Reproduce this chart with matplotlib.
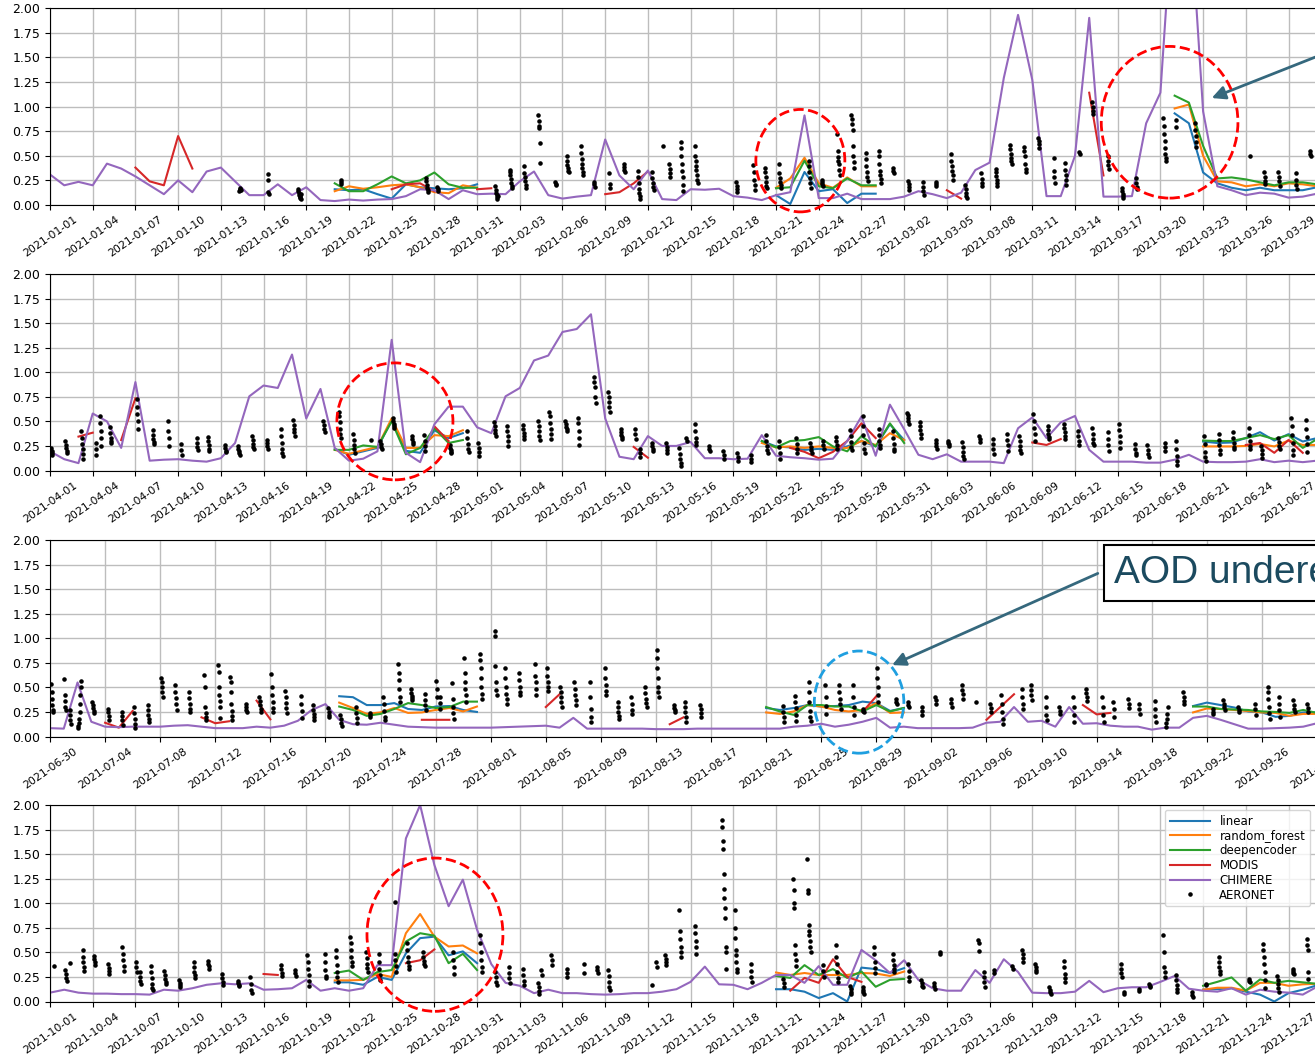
import numpy as np
import pandas as pd
import matplotlib
matplotlib.use("Agg")
import matplotlib.pyplot as plt
import matplotlib.dates as mdates
from matplotlib.patches import Ellipse

W, H = 1315, 1064

# ---- data: daily CHIMERE AOD for each quarter (one value per day from the start date)
q_start = ["2021-01-01", "2021-04-01", "2021-06-30", "2021-10-01"]
q_tick_step = [3, 3, 4, 3]
q_span = [89.0, 89.0, 92.0, 89.0]

chimere_q1 = [0.31, 0.20, 0.235, 0.20, 0.42, 0.37, 0.29, 0.20, 0.11, 0.25,
              0.13, 0.34, 0.38, 0.24, 0.10, 0.10, 0.21, 0.10, 0.18, 0.05,
              0.04, 0.055, 0.045, 0.055, 0.06, 0.09, 0.16, 0.15, 0.06, 0.15,
              0.11, 0.115, 0.11, 0.24, 0.34, 0.10, 0.065, 0.085, 0.10, 0.665,
              0.30, 0.16, 0.35, 0.06, 0.05, 0.16, 0.155, 0.165, 0.09, 0.075,
              0.05, 0.10, 0.13, 0.91, 0.07, 0.07, 0.115, 0.06, 0.06, 0.06,
              0.085, 0.14, 0.11, 0.07, 0.125, 0.355, 0.43, 1.29, 1.93, 1.27,
              0.09, 0.09, 0.50, 1.90, 0.085, 0.085, 0.09, 0.83, 1.14, 3.3,
              3.2, 0.95, 0.19, 0.15, 0.10, 0.125, 0.115, 0.075, 0.085, 0.115]
chimere_q2 = [0.195, 0.115, 0.075, 0.58, 0.50, 0.23, 0.90, 0.10, 0.11, 0.115,
              0.10, 0.09, 0.125, 0.28, 0.755, 0.865, 0.84, 1.18, 0.53, 0.83,
              0.23, 0.10, 0.12, 0.195, 1.33, 0.18, 0.085, 0.47, 0.65, 0.65,
              0.44, 0.38, 0.755, 0.84, 1.12, 1.17, 1.41, 1.44, 1.59, 0.53,
              0.14, 0.115, 0.35, 0.25, 0.25, 0.29, 0.125, 0.125, 0.115, 0.12,
              0.36, 0.15, 0.135, 0.125, 0.11, 0.12, 0.30, 0.55, 0.15, 0.67,
              0.42, 0.16, 0.115, 0.165, 0.09, 0.09, 0.09, 0.075, 0.43, 0.54,
              0.33, 0.49, 0.555, 0.21, 0.09, 0.09, 0.09, 0.08, 0.08, 0.11,
              0.16, 0.09, 0.085, 0.085, 0.09, 0.115, 0.085, 0.10, 0.085, 0.10]
chimere_q3 = [0.085, 0.08, 0.55, 0.15, 0.10, 0.095, 0.10, 0.10, 0.10, 0.11,
              0.115, 0.10, 0.085, 0.085, 0.085, 0.10, 0.09, 0.11, 0.16, 0.27,
              0.33, 0.17, 0.125, 0.12, 0.14, 0.12, 0.10, 0.095, 0.09, 0.09,
              0.09, 0.09, 0.09, 0.095, 0.10, 0.105, 0.11, 0.09, 0.19, 0.08,
              0.08, 0.08, 0.08, 0.08, 0.075, 0.075, 0.075, 0.08, 0.08, 0.08,
              0.08, 0.08, 0.08, 0.08, 0.10, 0.11, 0.13, 0.10, 0.12, 0.15,
              0.19, 0.09, 0.10, 0.085, 0.085, 0.085, 0.085, 0.09, 0.14, 0.15,
              0.30, 0.15, 0.16, 0.10, 0.30, 0.13, 0.135, 0.11, 0.10, 0.10,
              0.07, 0.09, 0.09, 0.19, 0.21, 0.17, 0.125, 0.08, 0.08, 0.085,
              0.09, 0.10, 0.135]
chimere_q4 = [0.09, 0.12, 0.09, 0.08, 0.08, 0.075, 0.075, 0.07, 0.12, 0.11,
              0.135, 0.17, 0.185, 0.175, 0.185, 0.12, 0.125, 0.135, 0.22, 0.11,
              0.135, 0.11, 0.135, 0.37, 0.37, 1.66, 2.0, 1.39, 0.97, 1.24,
              0.73, 0.38, 0.19, 0.16, 0.085, 0.12, 0.085, 0.085, 0.075, 0.07,
              0.075, 0.085, 0.085, 0.10, 0.125, 0.20, 0.355, 0.175, 0.17, 0.125,
              0.19, 0.27, 0.27, 0.19, 0.36, 0.17, 0.17, 0.525, 0.42, 0.29,
              0.42, 0.22, 0.135, 0.11, 0.11, 0.32, 0.19, 0.43, 0.30, 0.09,
              0.085, 0.085, 0.10, 0.21, 0.095, 0.135, 0.145, 0.145, 0.20, 0.26,
              0.13, 0.11, 0.10, 0.135, 0.07, 0.12, 0.10, 0.09, 0.07, 0.15]

# ---- MODIS retrievals: (first day, daily values) pieces
modis_q1 = [("01-07", [0.38, 0.24, 0.20, 0.70, 0.37]),
            ("01-25", [0.16, 0.21, 0.22, 0.14]),
            ("01-31", [0.16, 0.17]),
            ("02-09", [0.11, 0.13, 0.22, 0.34]),
            ("03-05", [0.15, 0.065]),
            ("03-15", [1.14, 0.30])]
modis_q2 = [("04-03", [0.345, 0.385]),
            ("04-06", [0.31, 0.735]),
            ("04-28", [0.45, 0.30]),
            ("05-12", [0.24, 0.13]),
            ("05-23", [0.23, 0.19, 0.125, 0.19, 0.30, 0.48, 0.33]),
            ("06-09", [0.285, 0.26, 0.32]),
            ("06-24", [0.26, 0.28, 0.18, 0.31, 0.18])]
modis_q3 = [("07-04", [0.14, 0.09, 0.26]),
            ("07-11", [0.195, 0.135, 0.155]),
            ("07-15", [0.365, 0.175]),
            ("07-27", [0.17, 0.17, 0.17]),
            ("08-05", [0.30, 0.43]),
            ("08-14", [0.125, 0.195]),
            ("08-28", [0.25, 0.41]),
            ("09-06", [0.17, 0.30, 0.43]),
            ("09-13", [0.32, 0.225, 0.24])]
modis_q4 = [("10-16", [0.28, 0.27]),
            ("10-26", [0.39, 0.42, 0.53]),
            ("11-22", [0.11, 0.24, 0.19, 0.43, 0.25, 0.20])]

# ---- model predictions
linear_q1 = [("01-21", [0.16, 0.15, 0.16, 0.11, 0.065, 0.21, 0.18, 0.17, 0.16, 0.17, 0.21]),
             ("02-21", [0.10, 0.01, 0.335, 0.14, 0.16, 0.02, 0.115, 0.115]),
             ("03-21", [0.93, 0.83, 0.33, 0.22, 0.175, 0.15, 0.175, 0.15, 0.15, 0.15, 0.18])]
forest_q1 = [("01-21", [0.14, 0.19, 0.165, 0.18, 0.20, 0.21, 0.18, 0.13, 0.12, 0.20, 0.175]),
             ("02-21", [0.175, 0.27, 0.48, 0.22, 0.175, 0.28, 0.19, 0.19]),
             ("03-21", [0.98, 1.02, 0.50, 0.24, 0.23, 0.19, 0.21, 0.19, 0.22, 0.21, 0.19])]
deep_q1 = [("01-21", [0.22, 0.14, 0.14, 0.21, 0.29, 0.22, 0.25, 0.33, 0.21, 0.175, 0.175]),
           ("02-21", [0.17, 0.18, 0.45, 0.19, 0.17, 0.27, 0.20, 0.20]),
           ("03-21", [1.11, 1.04, 0.60, 0.27, 0.28, 0.26, 0.23, 0.20, 0.23, 0.23, 0.21])]

linear_q2 = [("04-21", [0.22, 0.16, 0.195, 0.23, 0.51, 0.20, 0.18, 0.41, 0.33, 0.38]),
             ("05-21", [0.30, 0.245, 0.235, 0.21, 0.22, 0.21, 0.245, 0.30, 0.245, 0.47, 0.31]),
             ("06-21", [0.295, 0.28, 0.285, 0.33, 0.39, 0.305, 0.37, 0.295, 0.33])]
forest_q2 = [("04-21", [0.21, 0.17, 0.205, 0.24, 0.53, 0.23, 0.23, 0.36, 0.35, 0.41]),
             ("05-21", [0.28, 0.235, 0.245, 0.23, 0.245, 0.23, 0.23, 0.30, 0.26, 0.38, 0.31]),
             ("06-21", [0.245, 0.245, 0.245, 0.25, 0.27, 0.245, 0.305, 0.26, 0.26])]
deep_q2 = [("04-21", [0.21, 0.21, 0.255, 0.24, 0.50, 0.165, 0.23, 0.43, 0.28, 0.31]),
           ("05-21", [0.30, 0.235, 0.30, 0.31, 0.34, 0.245, 0.195, 0.35, 0.245, 0.48, 0.28]),
           ("06-21", [0.305, 0.30, 0.30, 0.33, 0.36, 0.32, 0.36, 0.23, 0.32])]

linear_q3 = [("07-21", [0.41, 0.40, 0.32, 0.32, 0.34, 0.28, 0.27, 0.305, 0.31, 0.27, 0.25]),
             ("08-21", [0.29, 0.27, 0.29, 0.32, 0.305, 0.31, 0.32, 0.355, 0.34, 0.26, 0.29]),
             ("09-21", [0.31, 0.345, 0.32, 0.295, 0.255, 0.245, 0.20, 0.21, 0.245, 0.245])]
forest_q3 = [("07-21", [0.345, 0.29, 0.23, 0.245, 0.29, 0.24, 0.245, 0.27, 0.29, 0.255, 0.305]),
             ("08-21", [0.245, 0.23, 0.255, 0.32, 0.305, 0.27, 0.255, 0.27, 0.34, 0.24, 0.245]),
             ("09-21", [0.245, 0.285, 0.28, 0.27, 0.26, 0.245, 0.24, 0.21, 0.23, 0.23])]
deep_q3 = [("07-21", [0.305, 0.27, 0.21, 0.23, 0.28, 0.34, 0.32, 0.29, 0.30, 0.355, 0.355]),
           ("08-21", [0.30, 0.255, 0.22, 0.32, 0.32, 0.305, 0.305, 0.255, 0.32, 0.255, 0.29]),
           ("09-21", [0.305, 0.305, 0.28, 0.275, 0.27, 0.255, 0.25, 0.24, 0.27, 0.24])]

linear_q4 = [("10-21", [0.195, 0.195, 0.17, 0.25, 0.22, 0.49, 0.645, 0.66, 0.47, 0.51, 0.39]),
             ("11-21", [0.125, 0.125, 0.10, 0.035, 0.085, 0.0, 0.345, 0.33, 0.29, 0.34]),
             ("12-21", [0.12, 0.125, 0.135, 0.10, 0.07, 0.0, 0.085, 0.12, 0.165])]
forest_q4 = [("10-21", [0.215, 0.215, 0.22, 0.28, 0.25, 0.695, 0.89, 0.66, 0.56, 0.57, 0.49]),
             ("11-21", [0.295, 0.27, 0.29, 0.27, 0.27, 0.27, 0.29, 0.285, 0.26, 0.305]),
             ("12-21", [0.12, 0.14, 0.14, 0.11, 0.19, 0.19, 0.16, 0.175, 0.18])]
deep_q4 = [("10-21", [0.29, 0.315, 0.22, 0.30, 0.32, 0.61, 0.695, 0.67, 0.39, 0.485, 0.32]),
           ("11-21", [0.26, 0.24, 0.37, 0.27, 0.33, 0.24, 0.305, 0.15, 0.22, 0.23]),
           ("12-21", [0.16, 0.20, 0.245, 0.11, 0.225, 0.19, 0.21, 0.195, 0.18])]

# ---- AERONET sessions: "MM-DD HH" (first measurement) -> AOD readings
aeronet_q1 = {
    "01-14 07": [0.14, 0.15, 0.16, 0.17, 0.15],
    "01-16 07": [0.31, 0.25, 0.13, 0.11],
    "01-18 10": [0.16, 0.14, 0.12, 0.10, 0.09, 0.08, 0.07, 0.06, 0.11],
    "01-21 10": [0.25, 0.23, 0.21],
    "01-27 10": [0.27, 0.24, 0.20, 0.17, 0.15, 0.13],
    "01-28 05": [0.18, 0.16, 0.14],
    "02-01 07": [0.19, 0.15, 0.12, 0.10, 0.08, 0.06, 0.09],
    "02-02 07": [0.36, 0.33, 0.30, 0.26, 0.22, 0.19, 0.17],
    "02-03 07": [0.40, 0.32, 0.28, 0.24, 0.20, 0.17],
    "02-04 07": [0.91, 0.85, 0.80, 0.78, 0.63, 0.43],
    "02-05 12": [0.23, 0.21, 0.20],
    "02-06 07": [0.50, 0.45, 0.41, 0.38, 0.35, 0.33],
    "02-07 07": [0.60, 0.53, 0.47, 0.42, 0.38, 0.34, 0.30],
    "02-08 05": [0.23, 0.21, 0.18],
    "02-09 07": [0.32, 0.21, 0.17],
    "02-10 07": [0.42, 0.39, 0.36, 0.33],
    "02-11 07": [0.35, 0.28, 0.22, 0.16, 0.12, 0.09, 0.06],
    "02-12 07": [0.33, 0.27, 0.22, 0.18, 0.15],
    "02-13 01": [0.60],
    "02-13 12": [0.42, 0.37, 0.32, 0.28],
    "02-14 07": [0.64, 0.58, 0.50, 0.42, 0.35, 0.28, 0.20, 0.14],
    "02-15 07": [0.60, 0.50, 0.45, 0.40, 0.36, 0.30, 0.25, 0.22],
    "02-18 05": [0.23, 0.19, 0.16, 0.13],
    "02-19 10": [0.41, 0.33, 0.25, 0.20, 0.15],
    "02-20 05": [0.38, 0.33, 0.28, 0.23, 0.19, 0.17],
    "02-21 05": [0.42, 0.32, 0.27, 0.23, 0.20, 0.17],
    "02-23 07": [0.45, 0.40, 0.33, 0.27, 0.22, 0.17],
    "02-24 05": [0.25, 0.23, 0.21, 0.19],
    "02-25 07": [0.72, 0.55, 0.49, 0.45, 0.42, 0.36, 0.30],
    "02-26 07": [0.91, 0.87, 0.82, 0.76, 0.60, 0.50, 0.44, 0.38],
    "02-27 07": [0.53, 0.47, 0.40, 0.33, 0.28, 0.24],
    "02-28 05": [0.55, 0.50, 0.42, 0.35, 0.30, 0.26, 0.22],
    "03-01 05": [0.38, 0.35, 0.32],
    "03-02 07": [0.24, 0.21, 0.18, 0.15],
    "03-03 07": [0.23, 0.18, 0.14, 0.10],
    "03-04 05": [0.23, 0.21, 0.19],
    "03-05 07": [0.52, 0.45, 0.40, 0.35, 0.30, 0.25],
    "03-06 07": [0.20, 0.16, 0.12, 0.09, 0.07],
    "03-07 10": [0.32, 0.26, 0.22, 0.19],
    "03-08 10": [0.37, 0.33, 0.29, 0.25, 0.22, 0.19],
    "03-09 10": [0.61, 0.57, 0.52, 0.48, 0.45, 0.42],
    "03-10 10": [0.59, 0.55, 0.50, 0.42, 0.37, 0.33],
    "03-11 10": [0.68, 0.65, 0.62, 0.58],
    "03-12 12": [0.48, 0.35, 0.28, 0.22],
    "03-13 07": [0.43, 0.36, 0.30, 0.25, 0.20],
    "03-14 07": [0.54, 0.52],
    "03-15 05": [1.05, 1.00, 0.95, 0.92],
    "03-16 07": [0.50, 0.45, 0.41, 0.37],
    "03-17 07": [0.17, 0.14, 0.11, 0.09, 0.07],
    "03-18 07": [0.27, 0.22, 0.18, 0.16],
    "03-20 05": [0.88, 0.80, 0.72, 0.65, 0.58, 0.52, 0.48, 0.45],
    "03-21 02": [0.86, 0.79],
    "03-22 10": [0.83, 0.76, 0.70, 0.64, 0.59],
    "03-26 07": [0.50],
    "03-27 07": [0.33, 0.28, 0.24, 0.21],
    "03-28 07": [0.33, 0.28, 0.24, 0.19],
    "03-29 12": [0.32, 0.25, 0.20, 0.16],
    "03-30 12": [0.55, 0.52, 0.50],
}
aeronet_q2 = {
    "04-01 02": [0.23, 0.20, 0.18, 0.16],
    "04-02 02": [0.30, 0.26, 0.23, 0.20, 0.18],
    "04-03 05": [0.40, 0.33, 0.27, 0.22, 0.17, 0.12],
    "04-04 05": [0.28, 0.22, 0.16],
    "04-04 12": [0.55, 0.48, 0.40, 0.33, 0.25],
    "04-05 05": [0.44, 0.38, 0.33, 0.30, 0.28],
    "04-07 02": [0.73, 0.65, 0.58, 0.50, 0.42],
    "04-08 05": [0.41, 0.36, 0.32, 0.29, 0.27],
    "04-09 07": [0.50, 0.40, 0.33, 0.25],
    "04-10 05": [0.27, 0.21, 0.16],
    "04-11 07": [0.33, 0.28, 0.24, 0.21],
    "04-12 02": [0.34, 0.30, 0.26, 0.22, 0.20],
    "04-13 07": [0.26, 0.23, 0.20, 0.19],
    "04-14 05": [0.25, 0.22, 0.20, 0.18, 0.16],
    "04-15 05": [0.35, 0.31, 0.27, 0.24, 0.22],
    "04-16 05": [0.31, 0.28, 0.25, 0.22],
    "04-17 05": [0.42, 0.35, 0.28, 0.22, 0.18, 0.15],
    "04-18 02": [0.51, 0.46, 0.42, 0.39, 0.35],
    "04-20 05": [0.50, 0.46, 0.42, 0.39],
    "04-21 07": [0.60, 0.55, 0.49, 0.42, 0.37, 0.33],
    "04-22 07": [0.37, 0.31, 0.26, 0.22, 0.18],
    "04-23 14": [0.31],
    "04-24 05": [0.30, 0.27, 0.24, 0.22],
    "04-25 02": [0.53, 0.50, 0.47, 0.45, 0.43],
    "04-26 10": [0.35, 0.32, 0.29, 0.27],
    "04-27 07": [0.36, 0.30, 0.25, 0.20],
    "04-29 02": [0.26, 0.23, 0.21, 0.19, 0.18],
    "04-30 07": [0.40, 0.33, 0.27, 0.22, 0.19],
    "05-01 02": [0.28, 0.23, 0.19, 0.15],
    "05-02 05": [0.49, 0.45, 0.41, 0.38, 0.35],
    "05-03 02": [0.45, 0.40, 0.35, 0.30, 0.25],
    "05-04 05": [0.46, 0.42, 0.38, 0.35, 0.32],
    "05-05 07": [0.50, 0.45, 0.40, 0.35, 0.31],
    "05-06 02": [0.60, 0.55, 0.48, 0.42, 0.37, 0.32],
    "05-07 05": [0.50, 0.47, 0.44, 0.42, 0.40],
    "05-08 02": [0.53, 0.48, 0.40, 0.33, 0.26],
    "05-09 05": [0.95, 0.90, 0.85, 0.75, 0.69],
    "05-10 05": [0.80, 0.75, 0.70, 0.65, 0.60],
    "05-11 02": [0.42, 0.39, 0.36, 0.34, 0.32],
    "05-12 02": [0.42, 0.37, 0.32],
    "05-12 10": [0.22, 0.18, 0.14],
    "05-13 07": [0.28, 0.25, 0.22, 0.20],
    "05-14 07": [0.28, 0.24, 0.21, 0.18],
    "05-15 05": [0.23, 0.17, 0.12, 0.08, 0.05],
    "05-15 17": [0.33, 0.30],
    "05-16 07": [0.47, 0.40, 0.33, 0.29, 0.26],
    "05-17 07": [0.25, 0.22, 0.20],
    "05-18 07": [0.20, 0.16, 0.12],
    "05-19 07": [0.18, 0.14, 0.10],
    "05-20 05": [0.16, 0.12, 0.09],
    "05-21 07": [0.36, 0.30, 0.25, 0.21, 0.18],
    "05-22 05": [0.30, 0.24, 0.18, 0.12],
    "05-23 10": [0.33, 0.27, 0.22, 0.18],
    "05-24 10": [0.28, 0.24, 0.21, 0.18],
    "05-25 07": [0.30, 0.26, 0.22],
    "05-26 05": [0.34, 0.30, 0.26, 0.22],
    "05-27 05": [0.41, 0.35, 0.29, 0.24, 0.21],
    "05-28 02": [0.55, 0.45, 0.36, 0.28, 0.22, 0.18],
    "05-29 05": [0.42, 0.36, 0.30, 0.26, 0.23],
    "05-30 05": [0.40, 0.33, 0.27, 0.22, 0.20],
    "05-31 05": [0.59, 0.56, 0.53, 0.50, 0.47],
    "06-01 02": [0.49, 0.45, 0.41, 0.37, 0.33],
    "06-02 05": [0.31, 0.28, 0.25, 0.22],
    "06-03 02": [0.30, 0.28, 0.27, 0.25],
    "06-04 02": [0.29, 0.24, 0.19, 0.15, 0.12],
    "06-05 07": [0.35, 0.32, 0.29],
    "06-06 05": [0.32, 0.27, 0.22, 0.17],
    "06-07 05": [0.37, 0.31, 0.26, 0.20],
    "06-08 02": [0.35, 0.30, 0.25, 0.21, 0.18],
    "06-09 02": [0.58, 0.50, 0.43, 0.37, 0.30],
    "06-10 02": [0.45, 0.41, 0.37, 0.34, 0.32],
    "06-11 05": [0.47, 0.43, 0.39, 0.35, 0.32],
    "06-12 05": [0.40, 0.35, 0.30, 0.26],
    "06-13 05": [0.43, 0.37, 0.32, 0.28, 0.26],
    "06-14 07": [0.39, 0.32, 0.26, 0.20],
    "06-15 02": [0.47, 0.41, 0.35, 0.29, 0.23],
    "06-16 05": [0.27, 0.22, 0.18, 0.16],
    "06-17 02": [0.26, 0.21, 0.17, 0.14],
    "06-18 07": [0.28, 0.24, 0.20],
    "06-19 02": [0.30, 0.22, 0.15, 0.10, 0.06],
    "06-21 02": [0.35, 0.27, 0.19, 0.14, 0.10],
    "06-22 02": [0.37, 0.31, 0.26, 0.21, 0.17],
    "06-23 02": [0.39, 0.33, 0.28, 0.24, 0.22],
    "06-24 05": [0.43, 0.36, 0.30, 0.25, 0.22],
    "06-25 02": [0.25, 0.21, 0.17, 0.13],
    "06-26 07": [0.33, 0.29, 0.25, 0.22],
    "06-27 05": [0.53, 0.45, 0.36, 0.28, 0.21, 0.16],
    "06-28 05": [0.51, 0.42, 0.34, 0.27, 0.19],
}
aeronet_q3 = {
    "06-30 02": [0.53, 0.45, 0.38, 0.32, 0.27, 0.25],
    "07-01 01": [0.59, 0.42, 0.36, 0.30, 0.27],
    "07-01 10": [0.27, 0.22, 0.17, 0.13],
    "07-02 01": [0.09, 0.11, 0.14, 0.18, 0.25, 0.33, 0.42, 0.50, 0.56],
    "07-03 02": [0.35, 0.32, 0.29, 0.26, 0.24],
    "07-04 05": [0.28, 0.25, 0.21, 0.17],
    "07-05 05": [0.25, 0.21, 0.17, 0.12],
    "07-06 02": [0.30, 0.24, 0.18, 0.13, 0.09],
    "07-07 02": [0.32, 0.27, 0.22, 0.18, 0.15],
    "07-08 02": [0.60, 0.55, 0.50, 0.45, 0.40],
    "07-09 02": [0.52, 0.45, 0.39, 0.33, 0.27],
    "07-10 02": [0.45, 0.39, 0.33, 0.28, 0.25],
    "07-11 05": [0.63, 0.50, 0.30, 0.24, 0.20, 0.17],
    "07-12 05": [0.73, 0.66, 0.50, 0.42, 0.36, 0.30, 0.19],
    "07-13 02": [0.61, 0.55, 0.45, 0.33, 0.26, 0.21, 0.17],
    "07-14 05": [0.33, 0.30, 0.27, 0.25],
    "07-15 05": [0.40, 0.36, 0.32, 0.28, 0.25],
    "07-16 02": [0.64, 0.50, 0.42, 0.35, 0.29, 0.25],
    "07-17 02": [0.46, 0.40, 0.34, 0.29, 0.24],
    "07-18 05": [0.41, 0.33, 0.26, 0.19],
    "07-19 02": [0.32, 0.27, 0.23, 0.20, 0.17],
    "07-20 05": [0.29, 0.25, 0.22, 0.20],
    "07-21 02": [0.22, 0.18, 0.14, 0.11],
    "07-22 05": [0.30, 0.24, 0.19, 0.14],
    "07-23 05": [0.24, 0.22, 0.20],
    "07-24 05": [0.40, 0.33, 0.26, 0.20, 0.17],
    "07-25 07": [0.74, 0.65, 0.57, 0.48, 0.40, 0.35],
    "07-26 05": [0.48, 0.44, 0.41, 0.39, 0.37],
    "07-27 05": [0.43, 0.37, 0.32, 0.27],
    "07-28 01": [0.56, 0.48, 0.40],
    "07-28 07": [0.40, 0.34, 0.28],
    "07-29 05": [0.54, 0.38, 0.30, 0.24, 0.18],
    "07-30 02": [0.80, 0.65, 0.55, 0.48, 0.42, 0.35],
    "07-31 05": [0.84, 0.78, 0.70, 0.60, 0.50, 0.43, 0.38],
    "08-01 07": [1.07, 1.02, 0.72, 0.55, 0.47, 0.42],
    "08-02 01": [0.70, 0.60, 0.50, 0.43, 0.38, 0.33],
    "08-03 01": [0.65, 0.58, 0.50, 0.45, 0.42],
    "08-04 05": [0.74, 0.62, 0.55, 0.48, 0.42],
    "08-05 02": [0.70, 0.62, 0.55, 0.50, 0.46],
    "08-06 01": [0.50, 0.45, 0.40, 0.35, 0.30],
    "08-07 02": [0.55, 0.48, 0.42, 0.37, 0.32],
    "08-08 05": [0.55, 0.40, 0.28, 0.20, 0.15],
    "08-09 07": [0.70, 0.60, 0.52, 0.46, 0.42],
    "08-10 05": [0.35, 0.30, 0.25, 0.21, 0.18],
    "08-11 05": [0.40, 0.33, 0.27, 0.23],
    "08-12 05": [0.50, 0.44, 0.38, 0.34, 0.30],
    "08-13 01": [0.88, 0.80, 0.70, 0.60, 0.50, 0.45, 0.40],
    "08-14 07": [0.32, 0.29, 0.27, 0.25],
    "08-15 02": [0.35, 0.30, 0.25, 0.20, 0.15],
    "08-16 05": [0.32, 0.28, 0.24, 0.20],
    "08-22 05": [0.31, 0.25, 0.20, 0.15],
    "08-23 02": [0.41, 0.35, 0.29, 0.22, 0.16],
    "08-24 02": [0.55, 0.45, 0.35, 0.26, 0.20, 0.16],
    "08-25 07": [0.52, 0.40, 0.31, 0.23],
    "08-26 07": [0.52, 0.45, 0.38, 0.33, 0.28],
    "08-27 07": [0.52, 0.40, 0.30, 0.22],
    "08-28 01": [0.28, 0.26, 0.25],
    "08-29 01": [0.70, 0.60, 0.50, 0.42, 0.35],
    "08-30 10": [0.38, 0.35, 0.33],
    "08-31 07": [0.35, 0.32, 0.30],
    "09-01 07": [0.30, 0.26, 0.22],
    "09-02 07": [0.40, 0.37, 0.33],
    "09-03 10": [0.38, 0.34, 0.30],
    "09-04 05": [0.52, 0.47, 0.43, 0.38],
    "09-05 05": [0.35],
    "09-06 07": [0.33, 0.29, 0.25],
    "09-07 02": [0.42, 0.33, 0.25, 0.18, 0.13],
    "09-08 14": [0.48, 0.40, 0.33, 0.28],
    "09-09 05": [0.52, 0.47, 0.42, 0.37],
    "09-10 07": [0.40, 0.30, 0.22, 0.17],
    "09-11 07": [0.30, 0.26, 0.23],
    "09-12 07": [0.40, 0.30, 0.22, 0.15],
    "09-13 05": [0.48, 0.44, 0.40, 0.36],
    "09-14 10": [0.40, 0.30, 0.22, 0.15],
    "09-15 05": [0.35, 0.28, 0.20],
    "09-16 07": [0.38, 0.33, 0.29],
    "09-17 02": [0.33, 0.28, 0.23],
    "09-18 05": [0.36, 0.28, 0.21, 0.15],
    "09-19 01": [0.10, 0.14, 0.18, 0.23, 0.30],
    "09-20 07": [0.45, 0.40, 0.36, 0.33],
    "09-22 10": [0.28, 0.25, 0.23],
    "09-23 05": [0.37, 0.33, 0.30, 0.27],
    "09-24 07": [0.30, 0.27, 0.25],
    "09-25 12": [0.33, 0.28, 0.22],
    "09-26 10": [0.50, 0.45, 0.38, 0.30, 0.24, 0.18],
    "09-27 05": [0.40, 0.33, 0.27, 0.20],
    "09-28 07": [0.37, 0.32, 0.28, 0.25],
    "09-29 07": [0.33, 0.29, 0.25],
}
aeronet_q4 = {
    "10-01 07": [0.36],
    "10-02 02": [0.32, 0.28, 0.24, 0.21],
    "10-02 10": [0.39],
    "10-03 07": [0.52, 0.45, 0.40, 0.35, 0.31],
    "10-04 02": [0.46, 0.43, 0.40, 0.37],
    "10-05 02": [0.38, 0.34, 0.31, 0.28],
    "10-06 02": [0.55, 0.48, 0.42, 0.36, 0.31],
    "10-07 01": [0.40, 0.35, 0.30],
    "10-07 07": [0.30, 0.25, 0.21, 0.18],
    "10-08 02": [0.36, 0.30, 0.24, 0.18, 0.14, 0.12],
    "10-09 01": [0.31, 0.27, 0.23, 0.20, 0.18],
    "10-10 02": [0.22, 0.19, 0.17, 0.15],
    "10-11 02": [0.40, 0.35, 0.30, 0.27, 0.24],
    "10-12 02": [0.41, 0.38, 0.36, 0.33],
    "10-13 02": [0.28, 0.24, 0.20, 0.17],
    "10-14 05": [0.21, 0.19, 0.17, 0.16],
    "10-15 02": [0.25, 0.18, 0.12, 0.09],
    "10-17 05": [0.37, 0.33, 0.29, 0.26],
    "10-18 05": [0.32, 0.29, 0.26],
    "10-19 02": [0.47, 0.40, 0.33, 0.27, 0.21, 0.16],
    "10-20 07": [0.48, 0.40, 0.32, 0.26, 0.24],
    "10-21 02": [0.52, 0.45, 0.37, 0.30, 0.25, 0.20],
    "10-22 02": [0.66, 0.60, 0.52, 0.45, 0.40, 0.36],
    "10-23 05": [0.50, 0.44, 0.38, 0.34, 0.30],
    "10-24 02": [0.48, 0.40, 0.33, 0.27, 0.22],
    "10-25 05": [1.01, 0.48, 0.42, 0.36, 0.30],
    "10-26 02": [0.60, 0.52, 0.45, 0.40, 0.36, 0.33],
    "10-27 05": [0.50, 0.45, 0.41, 0.38, 0.36],
    "10-29 07": [0.50, 0.42, 0.35, 0.28],
    "10-31 05": [0.68, 0.60, 0.50, 0.42, 0.35, 0.30],
    "11-01 07": [0.30, 0.25, 0.20, 0.17],
    "11-02 05": [0.35, 0.29, 0.24, 0.19],
    "11-03 05": [0.33, 0.27, 0.21, 0.17],
    "11-04 07": [0.19, 0.15, 0.11, 0.08],
    "11-04 12": [0.32, 0.27],
    "11-05 05": [0.47, 0.42, 0.37],
    "11-06 07": [0.33, 0.29, 0.25],
    "11-07 12": [0.38, 0.29],
    "11-08 10": [0.35, 0.32, 0.29],
    "11-09 05": [0.32, 0.26, 0.20, 0.15, 0.12],
    "11-12 07": [0.17],
    "11-12 14": [0.40, 0.35],
    "11-13 05": [0.47, 0.43, 0.40, 0.37],
    "11-14 05": [0.93, 0.72, 0.64, 0.55, 0.50, 0.45],
    "11-15 07": [0.77, 0.70, 0.62, 0.55, 0.48],
    "11-17 05": [1.85, 1.78, 1.63, 1.55, 1.30, 1.15, 1.05, 0.95, 0.85, 0.55, 0.50, 0.33],
    "11-18 02": [0.93, 0.75, 0.65, 0.52, 0.47, 0.40, 0.33, 0.30],
    "11-19 05": [0.38, 0.31, 0.25, 0.20],
    "11-21 12": [0.23, 0.19, 0.15],
    "11-22 05": [1.25, 1.13, 1.00, 0.95, 0.57, 0.48, 0.42, 0.36],
    "11-23 05": [1.45, 1.13, 1.10, 0.78, 0.72, 0.68, 0.62, 0.55, 0.50],
    "11-24 07": [0.37, 0.31, 0.25],
    "11-25 05": [0.57, 0.45, 0.38, 0.30, 0.24, 0.20],
    "11-26 05": [0.16, 0.13, 0.10, 0.08],
    "11-27 02": [0.15, 0.12, 0.10, 0.08],
    "11-27 21": [0.55, 0.48, 0.40, 0.34, 0.29],
    "11-29 05": [0.48, 0.42, 0.37, 0.33, 0.30],
    "11-30 07": [0.38, 0.31, 0.25, 0.21],
    "12-01 05": [0.22, 0.19, 0.16, 0.15],
    "12-02 02": [0.19, 0.16, 0.13],
    "12-02 12": [0.50, 0.48],
    "12-05 05": [0.63, 0.60, 0.51],
    "12-05 14": [0.30, 0.25, 0.20, 0.15],
    "12-06 07": [0.32, 0.29],
    "12-07 14": [0.36, 0.33],
    "12-08 07": [0.52, 0.48, 0.44, 0.40],
    "12-09 05": [0.38, 0.35, 0.32, 0.30],
    "12-10 05": [0.15, 0.12, 0.10, 0.08],
    "12-11 05": [0.41, 0.35, 0.28, 0.24, 0.20],
    "12-15 05": [0.38, 0.33, 0.29, 0.25],
    "12-15 10": [0.10, 0.08],
    "12-16 12": [0.13, 0.11],
    "12-17 05": [0.18, 0.16, 0.15],
    "12-18 05": [0.68, 0.50, 0.35, 0.30, 0.25],
    "12-19 02": [0.27, 0.22, 0.17, 0.13, 0.10],
    "12-20 05": [0.10, 0.07, 0.05],
    "12-21 05": [0.18, 0.17],
    "12-22 02": [0.45, 0.40, 0.35, 0.31, 0.28],
    "12-24 05": [0.23, 0.21, 0.20],
    "12-25 05": [0.59, 0.52, 0.45, 0.38, 0.30, 0.22, 0.14],
    "12-26 05": [0.26, 0.22, 0.18, 0.14, 0.10],
    "12-27 07": [0.33, 0.31, 0.29, 0.28],
    "12-28 07": [0.64, 0.58, 0.52, 0.30, 0.23],
}

chimere = [chimere_q1, chimere_q2, chimere_q3, chimere_q4]
modis = [modis_q1, modis_q2, modis_q3, modis_q4]
linear = [linear_q1, linear_q2, linear_q3, linear_q4]
forest = [forest_q1, forest_q2, forest_q3, forest_q4]
deep = [deep_q1, deep_q2, deep_q3, deep_q4]
aeronet = [aeronet_q1, aeronet_q2, aeronet_q3, aeronet_q4]


def pieces_to_series(pieces):
    """Join daily pieces into one series, with a NaN between pieces so lines break."""
    parts = []
    for start, vals in pieces:
        idx = pd.date_range("2021-" + start, periods=len(vals), freq="D")
        parts.append(pd.Series(vals, index=idx, dtype=float))
        parts.append(pd.Series([np.nan], index=[idx[-1] + pd.Timedelta(hours=12)]))
    return pd.concat(parts)


def aeronet_points(sessions):
    # readings in a session are ~40 min apart
    t, v = [], []
    for key, vals in sessions.items():
        t0 = pd.Timestamp("2021-" + key + ":00")
        for i, a in enumerate(vals):
            t.append(t0 + pd.Timedelta(minutes=40 * i))
            v.append(a)
    return t, v


# panel rows in pixels (top, bottom) and x scale
rows = [(8, 205), (274, 470.5), (540, 736.5), (805, 1001.5)]
ax_left, ax_width = 50, 1267

fig = plt.figure(figsize=(W / 100, H / 100), dpi=100)
fig.patch.set_facecolor("white")

axes = []
for i in range(4):
    top, bot = rows[i]
    ax = fig.add_axes([ax_left / W, 1 - bot / H, ax_width / W, (bot - top) / H])
    start = pd.Timestamp(q_start[i])

    ax.plot(pieces_to_series(linear[i]), color="#1f77b4", lw=1.5, label="linear")
    ax.plot(pieces_to_series(forest[i]), color="#ff7f0e", lw=1.5, label="random_forest")
    ax.plot(pieces_to_series(deep[i]), color="#2ca02c", lw=1.5, label="deepencoder")
    ax.plot(pieces_to_series(modis[i]), color="#d62728", lw=1.5, label="MODIS")
    ch = pd.Series(chimere[i], index=pd.date_range(start, periods=len(chimere[i]), freq="D"))
    ax.plot(ch, color="#9467bd", lw=1.5, label="CHIMERE")
    t, v = aeronet_points(aeronet[i])
    ax.plot(t, v, linestyle="none", marker=".", ms=4.5, color="black", label="AERONET")

    ax.set_xlim(start, start + pd.Timedelta(days=q_span[i]))
    ax.set_ylim(0, 2)
    ax.set_yticks(np.arange(0, 2.01, 0.25))
    ax.yaxis.set_major_formatter(plt.FormatStrFormatter("%.2f"))
    ticks = pd.date_range(start, start + pd.Timedelta(days=q_span[i]), freq=f"{q_tick_step[i]}D")
    ax.set_xticks(ticks)
    ax.xaxis.set_major_formatter(mdates.DateFormatter("%Y-%m-%d"))
    ax.tick_params(axis="x", labelsize=7.8, labelrotation=35)
    ax.tick_params(axis="y", labelsize=9)
    ax.grid(True, color="#bdbdbd", lw=1.0)
    ax.set_axisbelow(True)
    axes.append(ax)

axes[3].legend(loc="upper right", bbox_to_anchor=(1310 / W, 1 - 810 / H),
               bbox_transform=fig.transFigure, fontsize=8.5, labelspacing=0.15,
               handlelength=3.4, borderaxespad=0)


def circle(ax, center, y, w_days, h, color):
    x = mdates.date2num(pd.Timestamp(center))
    ax.add_patch(Ellipse((x, y), w_days, h, fill=False, ls="--", lw=2,
                         ec=color, clip_on=False, zorder=6))


circle(axes[0], "2021-02-22 17:00", 0.45, 6.25, 1.04, "red")
circle(axes[0], "2021-03-20 15:30", 0.84, 9.6, 1.54, "red")
circle(axes[1], "2021-04-25 05:30", 0.50, 8.15, 1.19, "red")
circle(axes[2], "2021-08-27 18:00", 0.35, 6.5, 1.04, "#1f9fe0")
circle(axes[3], "2021-10-28 01:00", 0.68, 9.55, 1.56, "red")

arrow_kw = dict(arrowstyle="-|>", color="#35687d", lw=2, mutation_scale=20, shrinkA=0, shrinkB=0)
axes[0].annotate("", xy=(pd.Timestamp("2021-03-23 14:30"), 1.086),
                 xytext=(pd.Timestamp("2021-04-01 14:30"), 1.60),
                 arrowprops=arrow_kw, annotation_clip=False)
axes[2].annotate("", xy=(pd.Timestamp("2021-08-30 03:30"), 0.727),
                 xytext=(pd.Timestamp("2021-09-14 02:00"), 1.66),
                 arrowprops=arrow_kw, annotation_clip=False)
axes[2].text(pd.Timestamp("2021-09-15 06:00"), 1.665, "AOD underestimation",
             fontsize=28, family="Liberation Sans", color="#1b4a5f",
             ha="left", va="center", zorder=10, clip_on=False,
             bbox=dict(boxstyle="square,pad=0.25", fc="white", ec="black", lw=1.5))

fig.savefig("out.png", dpi=100)
